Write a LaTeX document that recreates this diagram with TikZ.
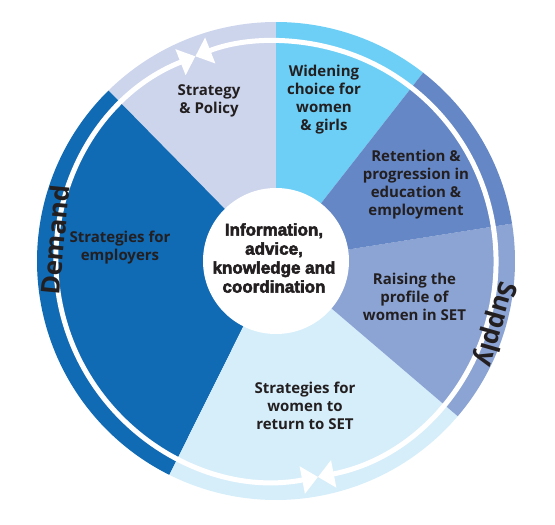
\documentclass[tikz,border=0pt]{standalone}
\usepackage{fontspec}
\setmainfont{Open Sans}
\newfontfamily\centrefont{Liberation Sans}[FakeBold=3]
\usetikzlibrary{arrows.meta}
\definecolor{policy}{RGB}{205,213,236}
\definecolor{widening}{RGB}{109,207,246}
\definecolor{retention}{RGB}{102,135,197}
\definecolor{raising}{RGB}{139,164,212}
\definecolor{returnset}{RGB}{214,238,250}
\definecolor{employers}{RGB}{16,106,180}
\definecolor{ink}{RGB}{35,31,32}
\begin{document}
\begin{tikzpicture}[x=1pt, y=1pt,
		sector/.style = {align=center, text=ink, font=\fontsize{15}{18}\selectfont\bfseries},
		ringarrow/.style = {white, line width=5pt, {Triangle[length=16pt,width=27pt]}-{Triangle[length=16pt,width=27pt]}},
		side/.style = {text=ink, font=\fontsize{26}{26}\selectfont\bfseries}]
		\useasboundingbox (-276,-264) rectangle (279,261);
		\fill [widening] (0,0) -- (52:239) arc [start angle=52, end angle=90, radius=239] -- cycle;
		\fill [policy] (0,0) -- (90:239) arc [start angle=90, end angle=134.5, radius=239] -- cycle;
		\fill [employers] (0,0) -- (134.5:239) arc [start angle=134.5, end angle=243.5, radius=239] -- cycle;
		\fill [returnset] (0,0) -- (243.5:239) arc [start angle=243.5, end angle=319.5, radius=239] -- cycle;
		\fill [raising] (0,0) -- (-40.5:239) arc [start angle=-40.5, end angle=9, radius=239] -- cycle;
		\fill [retention] (0,0) -- (9:239) arc [start angle=9, end angle=52, radius=239] -- cycle;
		% demand and supply arcs
		\draw [ringarrow] (111.5:220) arc [start angle=111.5, end angle=281, radius=220];
		\draw [ringarrow] (-79:220) arc [start angle=-79, end angle=111.5, radius=220];
		\fill [white] (0,0) circle (73);
		\node [sector] (policytxt) at (-67,160) {Strategy\\\& Policy};
		\node [sector] (widentxt) at (48,161) {Widening\\choice for\\women\\\& girls};
		\node [sector] (retaintxt) at (140,76) {Retention \&\\progression in\\education \&\\employment};
		\node [sector] (raisetxt) at (138.5,-35.5) {Raising the\\profile of\\women in SET};
		\node [sector] (returntxt) at (29,-144.5) {Strategies for\\women to\\return to SET};
		\node [sector] (employtxt) at (-156,13) {Strategies for\\employers};
		\node [align=center, text=ink, font=\fontsize{17}{19}\selectfont\centrefont\bfseries] (hub) at (-2,3) {Information,\\advice,\\knowledge and\\coordination};
		\node [side, rotate=84.6] (demand) at (174.6:222) {Demand};
		\node [side, rotate=-106] (supply) at (-16:228) {Supply};
	\end{tikzpicture}
\end{document}
